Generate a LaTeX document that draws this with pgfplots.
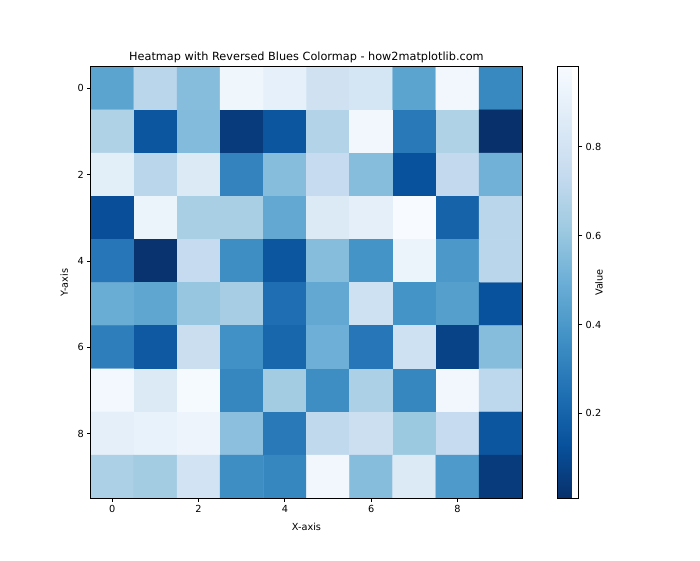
\documentclass[border=0pt]{standalone}
\usepackage{pgfplots}
\usepackage{pgfplotstable}
\pgfplotsset{compat=1.18}
\usepackage{fontspec}
\setmainfont{DejaVu Sans}
\pgfplotsset{/pgf/number format/assume math mode=true}
\pgfplotsset{colormap={bluesr}{rgb255(0cm)=(8,48,107) rgb255(1cm)=(8,81,156) rgb255(2cm)=(33,113,181) rgb255(3cm)=(66,146,198) rgb255(4cm)=(107,174,214) rgb255(5cm)=(158,202,225) rgb255(6cm)=(198,219,239) rgb255(7cm)=(222,235,247) rgb255(8cm)=(247,251,255)}}

\pgfplotstableread{
x y c
0 0 0.45
1 0 0.70
2 0 0.56
3 0 0.94
4 0 0.90
5 0 0.79
6 0 0.81
7 0 0.45
8 0 0.95
9 0 0.34
0 1 0.67
1 1 0.15
2 1 0.55
3 1 0.05
4 1 0.15
5 1 0.68
6 1 0.95
7 1 0.28
8 1 0.67
9 1 0.009
0 2 0.88
1 2 0.70
2 2 0.85
3 2 0.32
4 2 0.56
5 2 0.74
6 2 0.56
7 2 0.13
8 2 0.73
9 2 0.51
0 3 0.12
1 3 0.92
2 3 0.65
3 3 0.65
4 3 0.47
5 3 0.85
6 3 0.89
7 3 0.98
8 3 0.20
9 3 0.70
0 4 0.27
1 4 0.02
2 4 0.74
3 4 0.36
4 4 0.15
5 4 0.56
6 4 0.38
7 4 0.92
8 4 0.40
9 4 0.70
0 5 0.49
1 5 0.46
2 5 0.60
3 5 0.64
4 5 0.24
5 5 0.47
6 5 0.78
7 5 0.38
8 5 0.43
9 5 0.13
0 6 0.30
1 6 0.16
2 6 0.76
3 6 0.37
4 6 0.21
5 6 0.50
6 6 0.27
7 6 0.78
8 6 0.08
9 6 0.56
0 7 0.96
1 7 0.85
2 7 0.97
3 7 0.33
4 7 0.63
5 7 0.36
6 7 0.66
7 7 0.33
8 7 0.95
9 7 0.71
0 8 0.89
1 8 0.91
2 8 0.93
3 8 0.57
4 8 0.28
5 8 0.72
6 8 0.77
7 8 0.61
8 8 0.74
9 8 0.15
0 9 0.66
1 9 0.63
2 9 0.80
3 9 0.36
4 9 0.33
5 9 0.95
6 9 0.56
7 9 0.85
8 9 0.41
9 9 0.05
}\heat

\begin{document}
\begin{tikzpicture}
\begin{axis}[
  name=ax,
  width=443.8pt, height=443.8pt, scale only axis,
  xmin=-0.5, xmax=9.5, ymin=-0.5, ymax=9.5,
  y dir=reverse, enlargelimits=false, axis on top,
  xtick={0,2,4,6,8}, ytick={0,2,4,6,8},
  tick align=outside, tick pos=left, major tick length=3.6pt,
  every tick/.style={black, line width=0.8pt},
  axis line style={line width=0.8pt},
  ticklabel style={font=\fontsize{10}{12}\selectfont},
  xlabel={X-axis}, ylabel={Y-axis},
  label style={font=\fontsize{10}{12}\selectfont},
  xlabel style={yshift=-3.5pt},
  ylabel style={yshift=3pt},
  title={Heatmap with Reversed Blues Colormap - how2matplotlib.com},
  title style={font=\fontsize{11.6}{14}\selectfont, yshift=-5.5pt},
  colormap name=bluesr,
  point meta min=0.009, point meta max=0.980,
  colorbar,
  colorbar style={
    width=21.9pt,
    at={(parent axis.north east)}, anchor=north west, xshift=27.8pt,
    ytick={0.2,0.4,0.6,0.8},
    ytick pos=right, yticklabel pos=right,
    yticklabel style={font=\fontsize{10}{12}\selectfont, /pgf/number format/fixed, /pgf/number format/precision=1},
    ylabel={Value},
    ylabel style={font=\fontsize{10}{12}\selectfont, at={(axis description cs:1.95,0.5)}, anchor=center, rotate=0},
    tick align=outside, major tick length=3.6pt,
    every tick/.style={black, line width=0.8pt},
    axis line style={line width=0.8pt},
  },
]
\addplot[matrix plot*, mesh/cols=10, point meta=explicit] table[x=x, y=y, meta=c]{\heat};
\end{axis}
\path ([shift={(-93.3pt,-63.5pt)}]ax.south west) rectangle ([shift={(626.7pt,512.5pt)}]ax.south west);
\end{tikzpicture}
\end{document}
